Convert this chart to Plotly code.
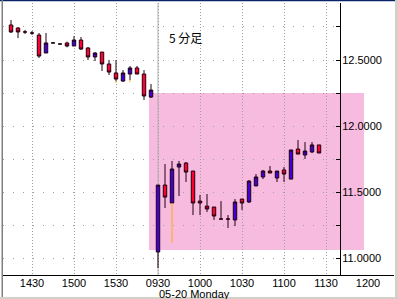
import plotly.graph_objects as go

# ---- data -------------------------------------------------------------
prev_times = ["1415", "1420", "1425", "1430", "1435", "1440", "1445", "1450", "1455",
              "1500", "1505", "1510", "1515", "1520", "1525", "1530", "1535", "1540",
              "1545", "1550", "1555"]
today_times = ["0930", "0935", "0940", "0945", "0950", "0955", "1000", "1005", "1010",
               "1015", "1020", "1025", "1030", "1035", "1040", "1045", "1050", "1055",
               "1100", "1105", "1110", "1115", "1120", "1125"]
future_times = ["1130", "1135", "1140", "1145", "1150", "1155", "1200"]

opens = [12.765, 12.742, 12.712, 12.704, 12.689, 12.553, 12.629, 12.621, 12.629, 12.606,
         12.651, 12.591, 12.523, 12.560, 12.470, 12.402, 12.341, 12.394, 12.440, 12.394,
         12.220,
         11.049, 11.555, 11.419, 11.691, 11.721, 11.661, 11.434, 11.396, 11.389, 11.298,
         11.298, 11.291, 11.449, 11.427, 11.548, 11.616, 11.661, 11.608, 11.669, 11.600,
         11.827, 11.782, 11.805, 11.858]
highs = [12.802, 12.749, 12.727, 12.719, 12.704, 12.704, 12.629, 12.621, 12.638, 12.681,
         12.674, 12.598, 12.560, 12.560, 12.500, 12.500, 12.424, 12.455, 12.455, 12.424,
         12.319,
         11.555, 11.714, 11.737, 11.737, 11.729, 11.661, 11.480, 11.487, 11.389, 11.434,
         11.328, 11.449, 11.449, 11.593, 11.638, 11.669, 11.699, 11.661, 11.691, 11.820,
         11.895, 11.880, 11.880, 11.858]
lows = [12.704, 12.666, 12.697, 12.689, 12.515, 12.553, 12.629, 12.621, 12.596, 12.606,
        12.576, 12.500, 12.492, 12.417, 12.387, 12.341, 12.334, 12.349, 12.394, 12.198,
        12.213,
        10.928, 11.381, 11.419, 11.472, 11.578, 11.328, 11.328, 11.351, 11.291, 11.298,
        11.230, 11.245, 11.366, 11.419, 11.548, 11.600, 11.646, 11.578, 11.578, 11.600,
        11.789, 11.752, 11.797, 11.797]
closes = [12.712, 12.712, 12.712, 12.704, 12.530, 12.629, 12.629, 12.621, 12.606, 12.651,
          12.583, 12.523, 12.553, 12.470, 12.409, 12.356, 12.402, 12.440, 12.394, 12.228,
          12.273,
          11.555, 11.464, 11.676, 11.714, 11.653, 11.419, 11.419, 11.374, 11.321, 11.298,
          11.298, 11.427, 11.419, 11.585, 11.616, 11.661, 11.646, 11.661, 11.638, 11.820,
          11.789, 11.812, 11.858, 11.797]

# yellow lower-wick segments
yellow_times = ["1530", "1540", "0940"]
yellow_top = [12.341, 12.349, 11.419]
yellow_bottom = [12.326, 12.334, 11.117]

tick_labels = ["1430", "1500", "1530", "0930", "1000", "1030", "1100", "1130", "1200"]
y_ticks = [11.0, 11.25, 11.5, 11.75, 12.0, 12.25, 12.5, 12.75]
band_low, band_high = 11.064, 12.25
title_text = "5 分足"
date_text = "05-20 Monday"

# ---- geometry ---------------------------------------------------------
W, H = 398, 299
ML, MR, MT, MB = 3, 4, 3, 24
PW, PH = W - ML - MR, H - MT - MB

slots = prev_times + today_times + future_times
idx = {t: i for i, t in enumerate(slots)}
xs = [idx[t] for t in prev_times + today_times]
tick_pos = [idx[t] for t in tick_labels]

X0 = -1.1429            # x-range start (slot units)
X_AX = 47.0             # where the price axis sits
X_END = 54.714          # right end of the time axis
Y_MIN, Y_MAX = 10.875, 12.931


def px_x(p):
    return (p - ML) / PW


def px_y(p):
    return (H - MB - p) / PH


def slot_paper(s):
    return (s - X0) / (X_END - X0)


fig = go.Figure()

fig.add_trace(go.Candlestick(
    x=xs, open=opens, high=highs, low=lows, close=closes,
    increasing=dict(fillcolor="#4000D8", line=dict(color="#200010", width=1)),
    decreasing=dict(fillcolor="#FF0030", line=dict(color="#200010", width=1)),
    hoverinfo="skip", showlegend=False,
))

yx, yy = [], []
for t, a, b in zip(yellow_times, yellow_top, yellow_bottom):
    yx += [idx[t], idx[t], None]
    yy += [a, b, None]
fig.add_trace(go.Scatter(x=yx, y=yy, mode="lines",
                         line=dict(color="#FFB000", width=1),
                         hoverinfo="skip", showlegend=False))

# carrier trace for the full-width time axis
fig.add_trace(go.Scatter(x=[tick_pos[0]], y=[11.5], mode="markers",
                         marker=dict(size=1, opacity=0), xaxis="x2", yaxis="y2",
                         hoverinfo="skip", showlegend=False))

font = dict(family="Liberation Sans, Arial, sans-serif", size=11, color="black")

fig.update_layout(
    width=W, height=H, autosize=False,
    margin=dict(l=ML, r=MR, t=MT, b=MB, pad=0),
    paper_bgcolor="white", plot_bgcolor="rgba(0,0,0,0)",
    showlegend=False,
    font=font,
    xaxis=dict(
        domain=[0, (340 - ML) / PW], range=[X0, X_AX],
        tickvals=tick_pos, showticklabels=False, ticks="",
        showgrid=True, gridcolor="#A0A0A0", griddash="1px,2px", gridwidth=1,
        zeroline=False, showline=False, rangeslider=dict(visible=False),
        fixedrange=True,
    ),
    yaxis=dict(
        domain=[0, 1], range=[Y_MIN, Y_MAX], anchor="x", side="right",
        tickvals=y_ticks,
        ticktext=[("%.4f" % v) if abs(v * 2 - round(v * 2)) < 1e-9 else "" for v in y_ticks],
        ticks="inside", ticklen=4, tickcolor="black", tickwidth=1,
        showline=True, linecolor="black", linewidth=1,
        showgrid=True, gridcolor="#A0A0A0", griddash="1px,9px", gridwidth=1,
        zeroline=False, tickfont=font, fixedrange=True, ticklabelstandoff=-1,
    ),
    xaxis2=dict(
        domain=[0, 1], range=[X0, X_END], anchor="y2",
        tickvals=tick_pos, ticktext=tick_labels, ticks="",
        showline=True, linecolor="black", linewidth=1, ticklabelstandoff=-2,
        showgrid=False, zeroline=False, tickfont=font, fixedrange=True,
    ),
    yaxis2=dict(domain=[0, 1], range=[Y_MIN, Y_MAX], anchor="x2", visible=False,
                fixedrange=True),
)

day_start = idx[today_times[0]]
fig.update_layout(shapes=[
    # pink session band
    dict(type="rect", xref="paper", yref="y",
         x0=slot_paper(19.71), x1=slot_paper(50.43), y0=band_low, y1=band_high,
         fillcolor="#F8BBE0", line=dict(width=0), layer="below"),
    # day separator
    dict(type="line", xref="x", yref="paper", x0=day_start, x1=day_start, y0=0, y1=1,
         line=dict(color="#B0B0B0", width=1), layer="below"),
    # window frame
    dict(type="rect", xref="paper", yref="paper", x0=px_x(0), x1=px_x(W), y0=px_y(0), y1=px_y(1.2),
         fillcolor="#0A246A", line=dict(width=0), layer="above"),
    dict(type="rect", xref="paper", yref="paper", x0=px_x(1.5), x1=px_x(3), y0=px_y(0), y1=px_y(H),
         fillcolor="#808080", line=dict(width=0), layer="above"),
    dict(type="rect", xref="paper", yref="paper", x0=px_x(0), x1=px_x(W), y0=px_y(297), y1=px_y(H),
         fillcolor="#D4D0C8", line=dict(width=0), layer="above"),
    dict(type="rect", xref="paper", yref="paper", x0=px_x(395), x1=px_x(W), y0=px_y(0), y1=px_y(H),
         fillcolor="#D4D0C8", line=dict(width=0), layer="above"),
])

fig.add_annotation(text=title_text, xref="paper", yref="paper",
                   x=px_x(185.5), y=px_y(37), xanchor="center", yanchor="middle",
                   showarrow=False,
                   font=dict(family="Noto Sans CJK JP, sans-serif", size=12, color="black"))
fig.add_annotation(text=date_text, xref="x2", yref="paper",
                   x=day_start, y=px_y(287), xanchor="left", yanchor="top",
                   showarrow=False, font=font, borderpad=0)

fig.write_html("out.html")
